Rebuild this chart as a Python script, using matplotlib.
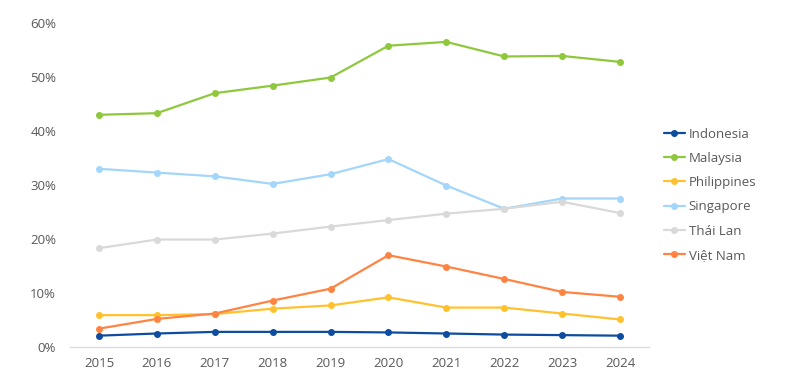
import matplotlib
matplotlib.use("Agg")
from matplotlib import pyplot as plt
from matplotlib.ticker import PercentFormatter

years = [2015, 2016, 2017, 2018, 2019, 2020, 2021, 2022, 2023, 2024]

indonesia = [2.1, 2.5, 2.8, 2.8, 2.8, 2.7, 2.5, 2.3, 2.2, 2.1]
malaysia = [43.0, 43.3, 47.0, 48.4, 49.9, 55.8, 56.5, 53.8, 53.9, 52.8]
philippines = [5.9, 5.9, 6.1, 7.1, 7.7, 9.2, 7.3, 7.3, 6.2, 5.1]
singapore = [33.0, 32.3, 31.6, 30.2, 32.0, 34.8, 29.9, 25.6, 27.5, 27.5]
thailand = [18.3, 19.9, 19.9, 21.0, 22.3, 23.5, 24.7, 25.6, 26.9, 24.8]
vietnam = [3.4, 5.2, 6.2, 8.6, 10.8, 17.0, 14.9, 12.6, 10.2, 9.3]

series = [
    ("Indonesia", indonesia, "#0D4C9F"),
    ("Malaysia", malaysia, "#8FC83C"),
    ("Philippines", philippines, "#FFC12E"),
    ("Singapore", singapore, "#A3D6FA"),
    ("Thái Lan", thailand, "#D9D9D9"),
    ("Việt Nam", vietnam, "#FF8443"),
]

plt.rcParams['font.family'] = ['Open Sans', 'DejaVu Sans']
text_color = '#595959'

fig = plt.figure(facecolor='w', figsize=(7.87, 3.86), dpi=100)
ax = fig.add_axes([70 / 787, 1 - 347 / 386, (649 - 70) / 787, (347 - 23) / 386])

x = list(range(len(years)))
for name, vals, color in series:
    ax.plot(x, vals, color=color, linewidth=1.6, marker='o', markersize=4,
            label=name, solid_capstyle='round')

ax.set_xlim(-0.5, len(years) - 0.5)
ax.set_ylim(0, 60)
ax.set_xticks(x)
ax.set_xticklabels([str(y) for y in years])
ax.set_yticks(range(0, 61, 10))
ax.yaxis.set_major_formatter(PercentFormatter(decimals=0))

for s in ['top', 'right', 'left']:
    ax.spines[s].set_visible(False)
ax.spines['bottom'].set_color('#D9D9D9')
ax.spines['bottom'].set_linewidth(0.9)
ax.tick_params(axis='both', length=0, labelsize=9.5, colors=text_color, pad=7)
ax.tick_params(axis='y', pad=10)

leg = ax.legend(loc='center left', bbox_to_anchor=(1.005, 0.47), frameon=False,
                fontsize=9.5, handlelength=1.6, handletextpad=0.3, labelspacing=0.85)
for t in leg.get_texts():
    t.set_color(text_color)

fig.savefig("out.png", dpi=100)
plt.close()
